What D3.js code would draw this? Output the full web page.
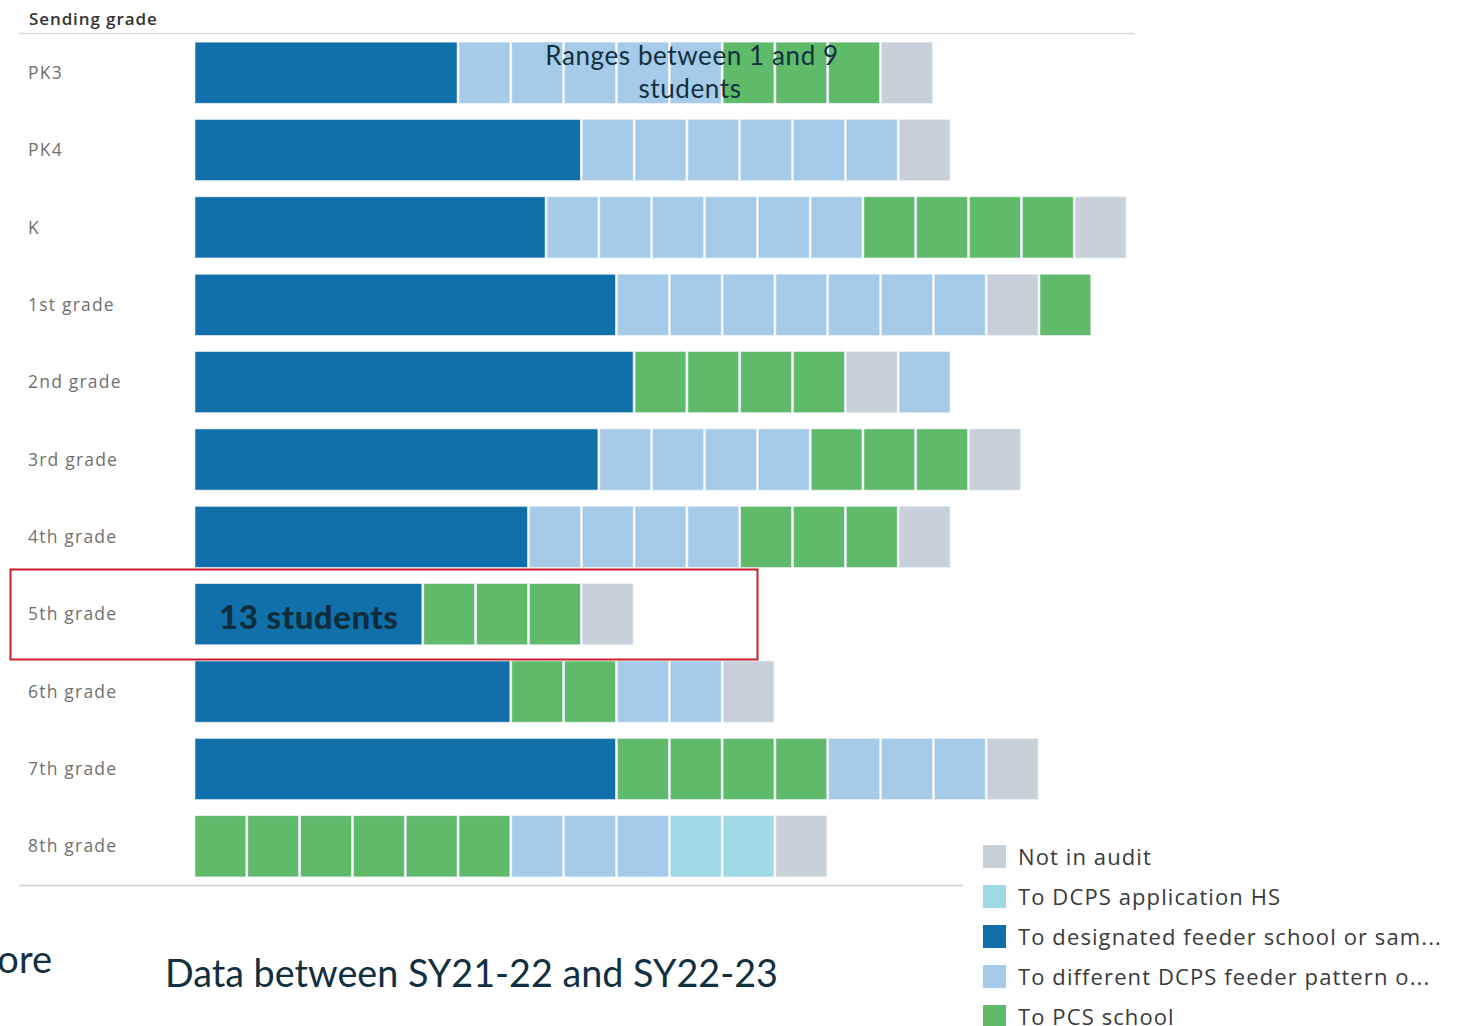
<!DOCTYPE html>
<html>
<head>
<meta charset="utf-8">
<script src="https://cdn.jsdelivr.net/npm/d3@7"></script>
<style>
  body { margin: 0; background: #fff; }
  svg { display: block; }
</style>
</head>
<body>
<svg id="chart" width="1463" height="1026"></svg>
<script>
const width = 1463;
const height = 1026;

// Sending grades, top to bottom
const grades = ["PK3", "PK4", "K", "1st grade", "2nd grade", "3rd grade", "4th grade",
    "5th grade", "6th grade", "7th grade", "8th grade"];

// Students going to designated feeder school (shown as one block)
const designated = [15, 22, 20, 24, 25, 23, 19, 13, 18, 24, 0];

// Small blocks (ranges between 1 and 9 students, drawn as 3), in row order
// L = different DCPS feeder, G = PCS school, N = not in audit, A = DCPS application HS
const smallBlocks = [
    ["L", "L", "L", "L", "L", "G", "G", "G", "N"],
    ["L", "L", "L", "L", "L", "L", "N"],
    ["L", "L", "L", "L", "L", "L", "G", "G", "G", "G", "N"],
    ["L", "L", "L", "L", "L", "L", "L", "N", "G"],
    ["G", "G", "G", "G", "N", "L"],
    ["L", "L", "L", "L", "G", "G", "G", "N"],
    ["L", "L", "L", "L", "G", "G", "G", "N"],
    ["G", "G", "G", "N"],
    ["G", "G", "L", "L", "N"],
    ["G", "G", "G", "G", "L", "L", "L", "N"],
    ["G", "G", "G", "G", "G", "G", "L", "L", "L", "A", "A", "N"]
];
const smallValue = 3;

const legendKeys = ["N", "A", "D", "L", "G"];
const legendLabels = ["Not in audit", "To DCPS application HS", "To designated feeder school or sam...",
    "To different DCPS feeder pattern o...", "To PCS school"];
const legendColors = ["#c8d0d9", "#a0d9e5", "#1170aa", "#a5cbe8", "#5fbb69"];

const color = d3.scaleOrdinal().domain(legendKeys).range(legendColors);

// build stacked segments per row
const rows = grades.map((g, i) => {
    const segs = [];
    let cum = 0;
    if (designated[i] > 0) {
        segs.push({ key: "D", x0: cum, x1: cum + designated[i] });
        cum += designated[i];
    }
    smallBlocks[i].forEach(k => {
        segs.push({ key: k, x0: cum, x1: cum + smallValue });
        cum += smallValue;
    });
    return { grade: g, segs: segs };
});

const svg = d3.select("#chart");

const x = d3.scaleLinear().domain([0, 53]).range([194, 1127]);
const y = d3.scaleBand().domain(grades).range([34, 885]).paddingInner(0.21).paddingOuter(0.105);

// header
svg.append("text")
    .attr("x", 29).attr("y", 25)
    .attr("font-family", "Open Sans, sans-serif")
    .attr("font-size", 17).attr("font-weight", 600)
    .attr("letter-spacing", 0.9)
    .attr("fill", "#333")
    .text("Sending grade");

svg.append("line")
    .attr("x1", 19).attr("x2", 1135).attr("y1", 33.5).attr("y2", 33.5)
    .attr("stroke", "#d9d9d9").attr("stroke-width", 1.5);

svg.append("line")
    .attr("x1", 19).attr("x2", 963).attr("y1", 885.5).attr("y2", 885.5)
    .attr("stroke", "#d0d0d0").attr("stroke-width", 1.5);

// row labels
svg.append("g")
    .selectAll("text")
    .data(grades)
    .join("text")
    .attr("x", 28)
    .attr("y", d => y(d) + y.bandwidth() / 2)
    .attr("dy", "0.35em")
    .attr("font-family", "Open Sans, sans-serif")
    .attr("font-size", 17.5)
    .attr("letter-spacing", 1.2)
    .attr("fill", "#707070")
    .text(d => d);

// bars
const rowG = svg.append("g")
    .selectAll("g")
    .data(rows)
    .join("g")
    .attr("transform", d => `translate(0, ${y(d.grade)})`);

rowG.selectAll("rect")
    .data(d => d.segs)
    .join("rect")
    .attr("x", d => x(d.x0) + 1)
    .attr("width", d => x(d.x1) - x(d.x0) - 2)
    .attr("y", 0)
    .attr("height", y.bandwidth())
    .attr("fill", d => color(d.key))
    .attr("stroke", "#e6eef6")
    .attr("stroke-width", 0.6);

// annotation for small blocks
const ann = svg.append("text")
    .attr("text-anchor", "middle")
    .attr("font-family", "Lato, sans-serif")
    .attr("font-size", 26)
    .attr("letter-spacing", 0.6)
    .attr("fill", "#12303f");
ann.append("tspan").attr("x", 692).attr("y", 65).text("Ranges between 1 and 9");
ann.append("tspan").attr("x", 690).attr("y", 98).text("students");

// highlight on 5th grade
svg.append("rect")
    .attr("x", 10.5).attr("y", 569.5)
    .attr("width", 747).attr("height", 90)
    .attr("fill", "none")
    .attr("stroke", "#cc1f2b").attr("stroke-width", 2);

svg.append("text")
    .attr("x", 219).attr("y", y("5th grade") + y.bandwidth() / 2 + 2)
    .attr("dy", "0.38em")
    .attr("font-family", "Lato, sans-serif")
    .attr("font-size", 33).attr("font-weight", 900)
    .attr("letter-spacing", 0.5)
    .attr("fill", "#0e2e3e")
    .text("13 students");

// legend
const legend = svg.append("g")
    .selectAll("g")
    .data(legendKeys)
    .join("g")
    .attr("transform", (d, i) => `translate(983, ${845 + i * 40})`);

legend.append("rect")
    .attr("width", 23).attr("height", 23)
    .attr("fill", d => color(d));

legend.append("text")
    .attr("x", 35).attr("y", 12)
    .attr("dy", "0.36em")
    .attr("font-family", "Open Sans, sans-serif")
    .attr("font-size", 22)
    .attr("letter-spacing", 1.1)
    .attr("fill", "#3a3a3a")
    .text((d, i) => legendLabels[i]);

// bottom captions
svg.append("text")
    .attr("x", 52).attr("y", 973)
    .attr("text-anchor", "end")
    .attr("font-family", "Lato, sans-serif")
    .attr("font-size", 38)
    .attr("fill", "#12303f")
    .text("More");

svg.append("text")
    .attr("x", 165).attr("y", 987)
    .attr("font-family", "Lato, sans-serif")
    .attr("font-size", 38)
    .attr("fill", "#12303f")
    .attr("textLength", 613)
    .attr("lengthAdjust", "spacingAndGlyphs")
    .text("Data between SY21-22 and SY22-23");
</script>
</body>
</html>
